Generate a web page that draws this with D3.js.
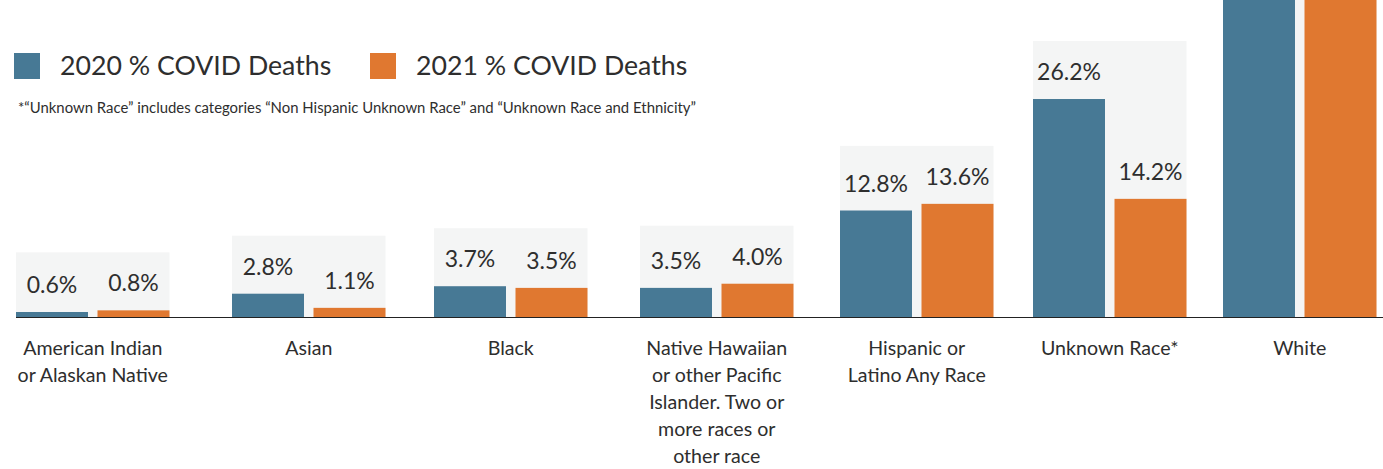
<!DOCTYPE html>
<html><head><meta charset="utf-8">
<script src="https://cdn.jsdelivr.net/npm/d3@7"></script>
<style>
html,body{margin:0;padding:0;background:#fff;overflow:hidden}
svg{display:block;font-family:Lato,"Open Sans",sans-serif}
</style></head>
<body><svg id="c" width="1383" height="469"></svg>
<script>
const categories = ["American Indian or Alaskan Native","Asian","Black","Native Hawaiian or other Pacific Islander. Two or more races or other race","Hispanic or Latino Any Race","Unknown Race*","White"];
const categoryLines = [["American Indian","or Alaskan Native"],["Asian"],["Black"],["Native Hawaiian","or other Pacific","Islander. Two or","more races or","other race"],["Hispanic or","Latino Any Race"],["Unknown Race*"],["White"]];
const series = ["2020 % COVID Deaths","2021 % COVID Deaths"];
const values2020 = [0.6, 2.8, 3.7, 3.5, 12.8, 26.2, 53.4];
const values2021 = [0.8, 1.1, 3.5, 4.0, 13.6, 14.2, 62.5];
const footnote = "*\u201CUnknown Race\u201D includes categories \u201CNon Hispanic Unknown Race\u201D and \u201CUnknown Race and Ethnicity\u201D";
const colors = ["#477995","#E07830"];

const svg = d3.select("#c");
const baseY = 317;
const y = d3.scaleLinear().domain([0, 38.1]).range([baseY, 0]);
const gx = d3.scaleOrdinal().domain(categories).range([16, 232, 434, 640, 840, 1033, 1223]);
const bx = d3.scaleOrdinal().domain([0,1]).range([0, 81.5]);
const bw = 72;
const textCol = "#2e2e2e";

const rows = categories.map((c,i)=>({c, lines:categoryLines[i], v:[values2020[i], values2021[i]]}));

// group backgrounds
svg.append("g").selectAll("rect").data(rows).join("rect")
  .attr("x", d=>gx(d.c))
  .attr("width", bx(1)+bw)
  .attr("y", d=>y(d3.max(d.v)) - 58)
  .attr("height", d=>baseY - (y(d3.max(d.v)) - 58))
  .attr("fill", "#F4F5F5");

// bars
const g = svg.append("g").selectAll("g").data(rows).join("g")
  .attr("transform", d=>`translate(${gx(d.c)},0)`);
g.selectAll("rect").data(d=>d.v).join("rect")
  .attr("x",(v,i)=>bx(i)).attr("width",bw)
  .attr("y",v=>y(v)).attr("height",v=>baseY-y(v))
  .attr("fill",(v,i)=>colors[i]);
// value labels (those beyond the visible top are off-canvas in the original)
g.selectAll("text").data(d=>d.v.map((v,i)=>({v,i})).filter(o=>y(o.v)-40>0)).join("text")
  .attr("x",o=>bx(o.i)+bw/2).attr("y",o=>y(o.v)-19)
  .attr("text-anchor","middle").attr("font-size",23).attr("fill",textCol)
  .text(o=>o.v.toFixed(1)+"%");

// baseline
svg.append("line").attr("x1",16).attr("x2",1383).attr("y1",baseY+0.5).attr("y2",baseY+0.5)
  .attr("stroke","#222").attr("stroke-width",1.2);

// category labels
const lab = svg.append("g").selectAll("text").data(rows).join("text")
  .attr("text-anchor","middle").attr("font-size",19.6).attr("fill",textCol)
  .attr("x", d=>gx(d.c) + (bx(1)+bw)/2).attr("y", 355);
lab.selectAll("tspan").data(d=>d.lines).join("tspan")
  .attr("x", function(){return this.parentNode.getAttribute("x");})
  .attr("y",(l,i)=>355+i*27).text(l=>l);

// legend
const leg = svg.append("g");
const legX = [14, 370];
series.forEach((s,i)=>{
  leg.append("rect").attr("x",legX[i]).attr("y",53).attr("width",26).attr("height",26).attr("fill",colors[i]);
  leg.append("text").attr("x",legX[i]+46).attr("y",75).attr("font-size",26.7).attr("fill",textCol).text(s);
});
svg.append("text").attr("x",18).attr("y",113).attr("font-size",14.9).attr("fill",textCol).text(footnote);
</script></body></html>
